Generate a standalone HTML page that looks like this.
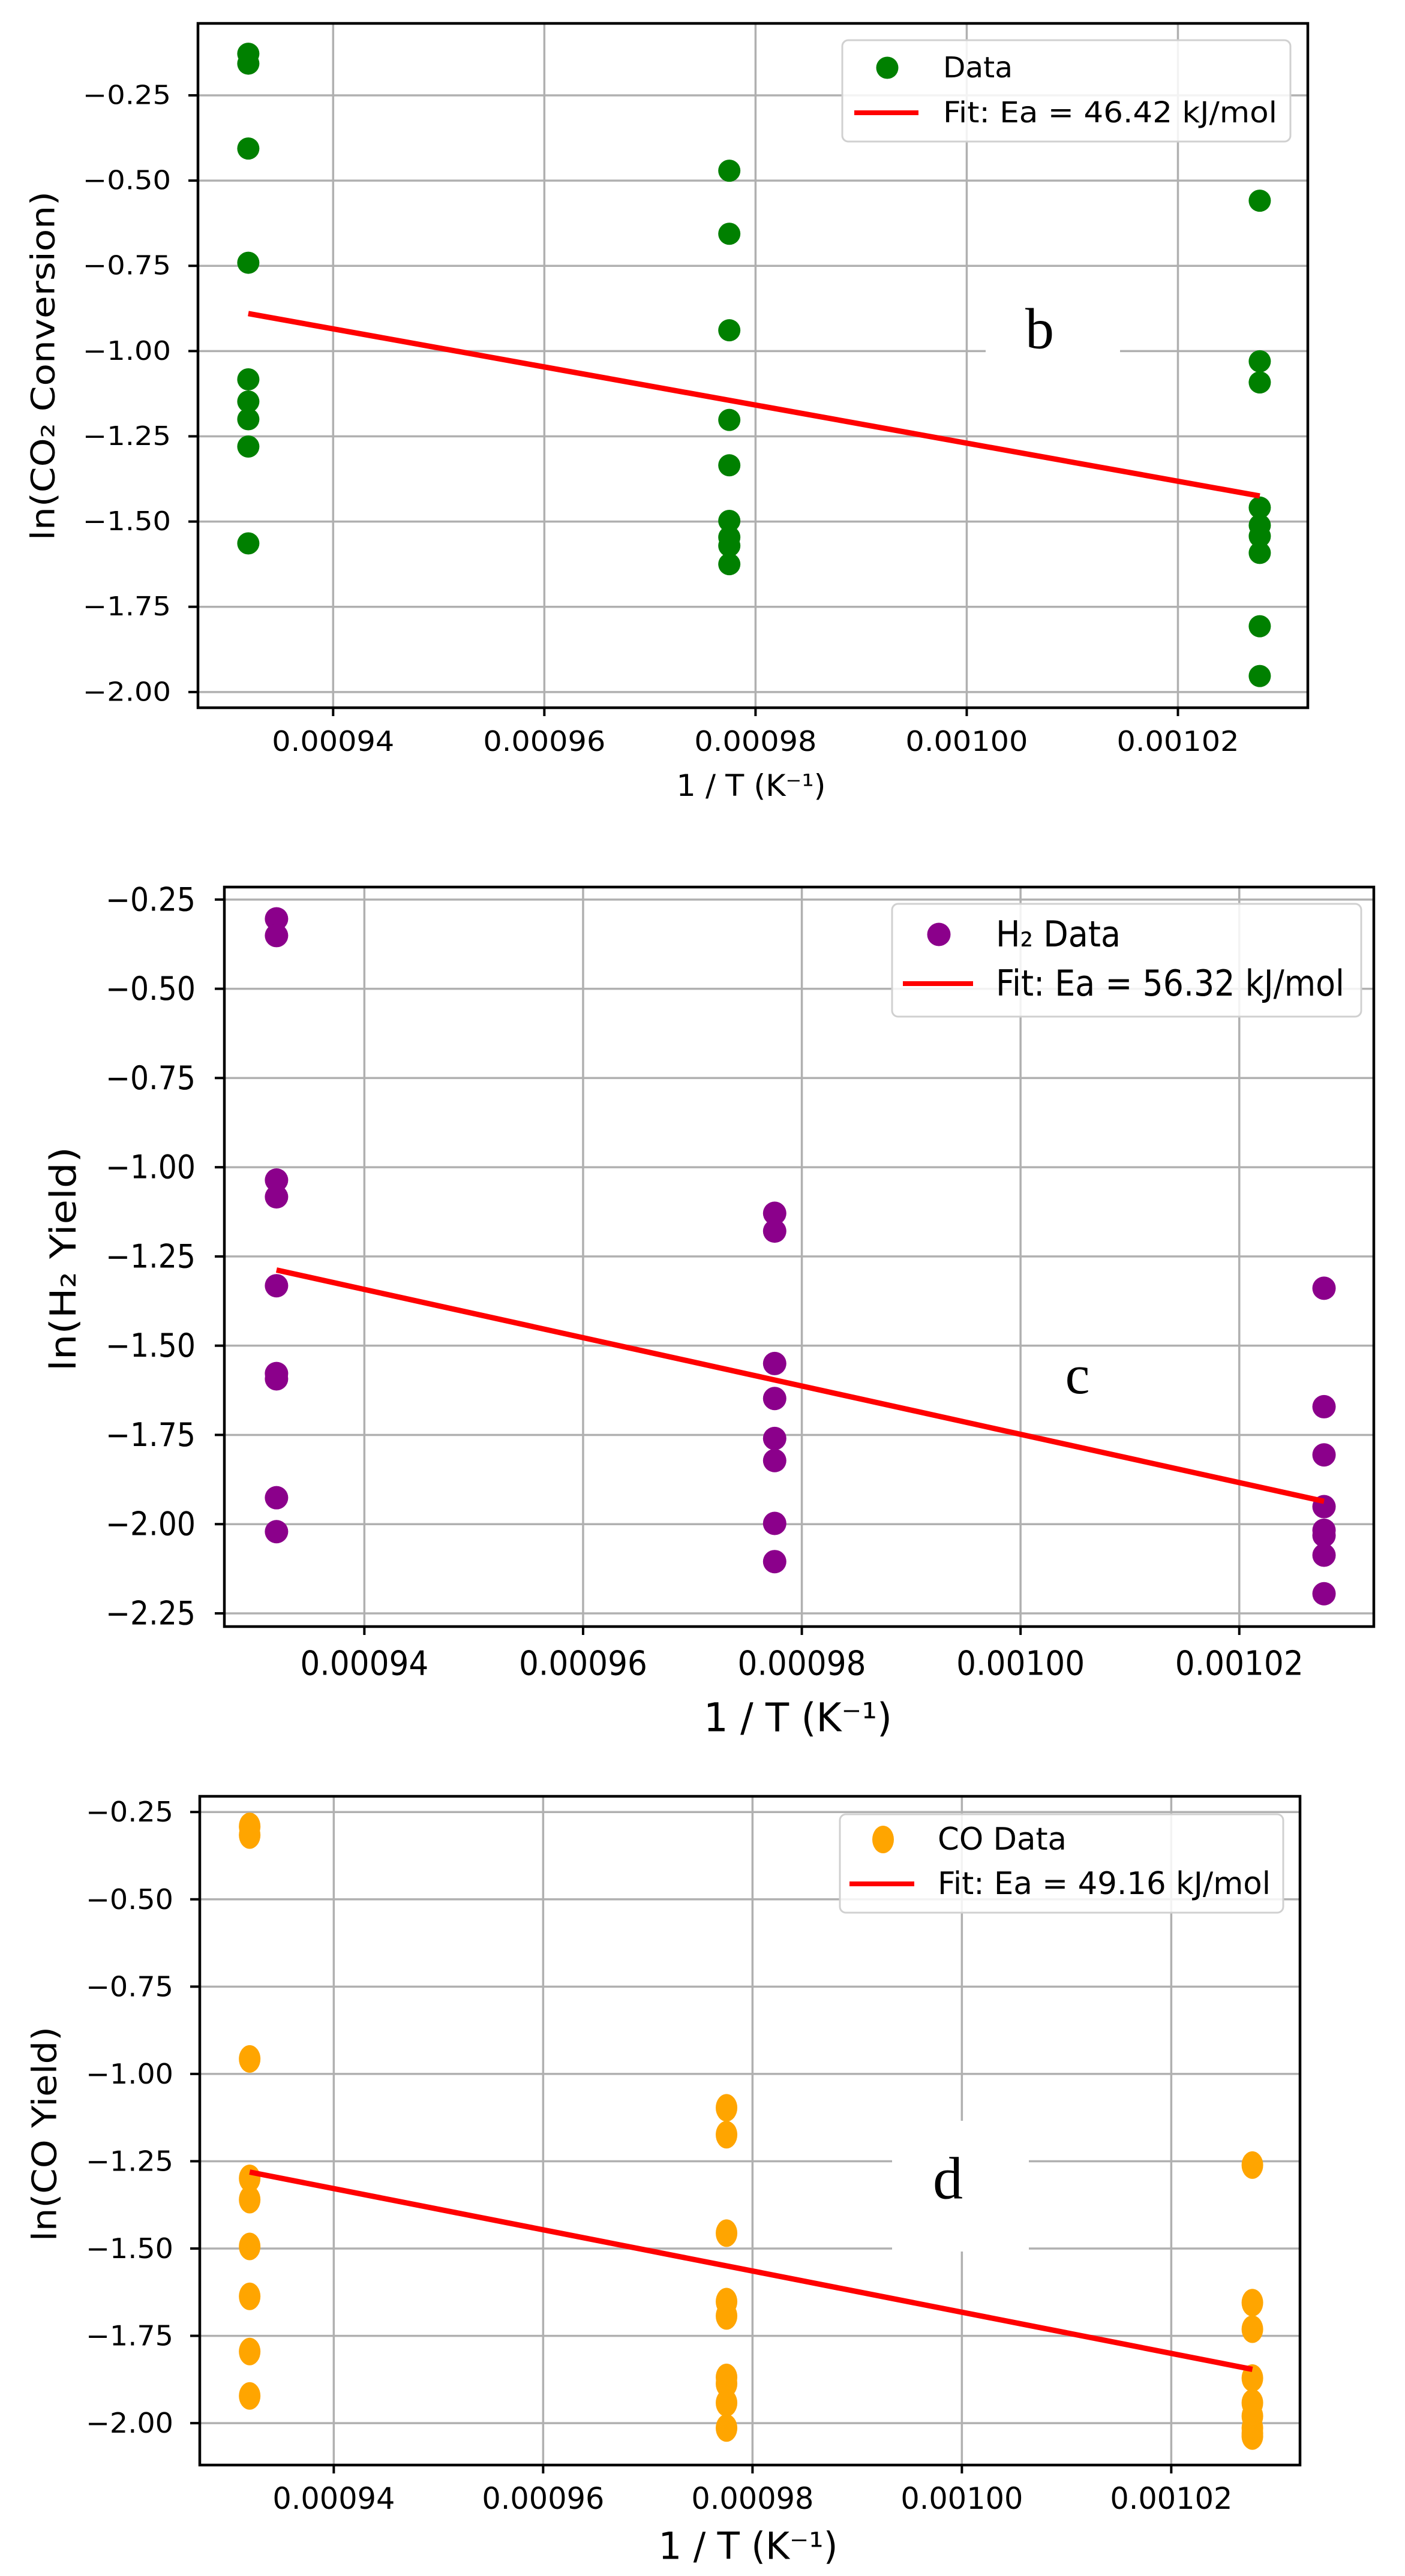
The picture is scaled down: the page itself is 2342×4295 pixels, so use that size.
<!DOCTYPE html>
<html><head><meta charset="utf-8"><title>Arrhenius plots</title>
<style>html,body{margin:0;padding:0;background:#fff;}svg{display:block;}</style>
</head><body>
<svg id="fig" xmlns="http://www.w3.org/2000/svg" width="2342" height="4295" viewBox="0 0 2342 4295"></svg>
<script>
// ---- shared data ----
const tempsK = [1073, 1023, 973];
const xTickValues = [0.00094, 0.00096, 0.00098, 0.00100, 0.00102];
const xTickLabels = ["0.00094", "0.00096", "0.00098", "0.00100", "0.00102"];
const yTickValues = [-0.25, -0.5, -0.75, -1.0, -1.25, -1.5, -1.75, -2.0, -2.25];
const yTickLabels = ["\u22120.25", "\u22120.50", "\u22120.75", "\u22121.00", "\u22121.25", "\u22121.50", "\u22121.75", "\u22122.00", "\u22122.25"];

// ---- panel b: CO2 conversion ----
const co2At1073 = [-0.128, -0.157, -0.406, -0.741, -1.083, -1.148, -1.200, -1.280, -1.564];
const co2At1023 = [-0.471, -0.656, -0.939, -1.202, -1.335, -1.498, -1.546, -1.571, -1.625];
const co2At973 = [-0.559, -1.030, -1.092, -1.459, -1.511, -1.543, -1.592, -1.807, -1.953];
const co2FitEnds = [-0.89, -1.425];
const co2Ea = "46.42";

// ---- panel c: H2 yield ----
const h2At1073 = [-0.304, -0.351, -1.036, -1.083, -1.332, -1.578, -1.593, -1.926, -2.021];
const h2At1023 = [-1.129, -1.179, -1.550, -1.648, -1.760, -1.822, -1.998, -2.105];
const h2At973 = [-1.339, -1.671, -1.806, -1.951, -2.017, -2.032, -2.087, -2.195];
const h2FitEnds = [-1.288, -1.936];
const h2Ea = "56.32";

// ---- panel d: CO yield ----
const coAt1073 = [-0.291, -0.316, -0.957, -1.299, -1.360, -1.494, -1.637, -1.795, -1.922];
const coAt1023 = [-1.097, -1.174, -1.456, -1.652, -1.693, -1.869, -1.887, -1.942, -2.014];
const coAt973 = [-1.261, -1.655, -1.731, -1.871, -1.942, -1.980, -2.014, -2.029, -2.037];
const coFitEnds = [-1.281, -1.846];
const coEa = "49.16";

const NS = "http://www.w3.org/2000/svg";
const svg = document.getElementById("fig");
function mk(tag, attrs, parent) {
  const e = document.createElementNS(NS, tag);
  for (const k in attrs) e.setAttribute(k, attrs[k]);
  (parent || svg).appendChild(e);
  return e;
}
function txt(parent, x, y, str, size, width, anchor, family, name, rot) {
  const t = mk("text", {x: x, y: y, "font-size": size, "font-family": family || "'DejaVu Sans','Liberation Sans',sans-serif",
    "text-anchor": anchor || "middle", "dominant-baseline": "central", fill: "#000"}, parent);
  if (width) { t.setAttribute("textLength", width); t.setAttribute("lengthAdjust", "spacingAndGlyphs"); }
  if (rot) t.setAttribute("transform", "rotate(-90 " + x + " " + y + ")");
  t.textContent = str;
  
  
  return t;
}

function panel(cfg) {
  const g = mk("g", {});
  
  
  const L = cfg.left, R = cfg.right, T = cfg.top, B = cfg.bottom;
  const xd = [0.0009272, 0.0010323];
  const sx = v => L + (v - xd[0]) / (xd[1] - xd[0]) * (R - L);
  const sy = v => T + (cfg.ymax - v) / (cfg.ymax - cfg.ymin) * (B - T);
  // grid
  const grid = mk("g", {stroke: "#b0b0b0", "stroke-width": 3.5}, g);
  
  
  xTickValues.forEach((v, i) => {
    const x = sx(v);
    mk("line", {x1: x, x2: x, y1: T, y2: B}, grid);
    const tk = mk("line", {x1: x, x2: x, y1: B, y2: B + 14, stroke: "#000", "stroke-width": 4}, g);
    
    txt(g, x, cfg.xTickY, xTickLabels[i], cfg.xTickSize, cfg.xTickW, "middle", null, "x-tick-label");
  });
  yTickValues.forEach((v, i) => {
    if (v > cfg.ymax || v < cfg.ymin) return;
    const y = sy(v);
    mk("line", {x1: L, x2: R, y1: y, y2: y}, grid);
    const tk = mk("line", {x1: L - 16, x2: L, y1: y, y2: y, stroke: "#000", "stroke-width": 4}, g);
    
    txt(g, cfg.yTickRight, y, yTickLabels[i], cfg.yTickSize, cfg.yTickW, "end", null, "y-tick-label");
  });
  // white label box
  if (cfg.box) {
    const bx = mk("rect", {x: cfg.box[0], y: cfg.box[1], width: cfg.box[2], height: cfg.box[3], fill: "#fff"}, g);
    
    
  }
  // points
  const pts = mk("g", {fill: cfg.color}, g);
  
  
  cfg.series.forEach((vals, si) => {
    const x = sx(1 / tempsK[si]);
    vals.forEach(v => {
      const c = mk("ellipse", {cx: x, cy: sy(v), rx: cfg.rx, ry: cfg.ry}, pts);
      
      
    });
  });
  // fit line
  const fl = mk("line", {x1: sx(1 / tempsK[0]), y1: sy(cfg.fit[0]), x2: sx(1 / tempsK[2]), y2: sy(cfg.fit[1]),
    stroke: "#ff0000", "stroke-width": 9}, g);
  
  
  // spines
  const sp = mk("rect", {x: L, y: T, width: R - L, height: B - T, fill: "none", stroke: "#000", "stroke-width": 4.5}, g);
  
  
  // axis labels
  txt(g, cfg.xLab[0], cfg.xLab[1], "1 / T (K\u207B\u00B9)", cfg.xLab[2], cfg.xLab[3], "middle", null, "x-axis-title");
  txt(g, cfg.yLab[0], cfg.yLab[1], cfg.yLabText, cfg.yLab[2], cfg.yLab[3], "middle", null, "y-axis-title", true);
  // legend
  const lg = mk("g", {}, g);
  
  
  const lb = cfg.legend;
  mk("rect", {x: lb.x, y: lb.y, width: lb.w, height: lb.h, rx: 10, fill: "#fff", "fill-opacity": 0.85, stroke: "#d0d0d0", "stroke-width": 3}, lg);
  const lm = mk("ellipse", {cx: lb.mx, cy: lb.y1, rx: cfg.rx, ry: cfg.ry, fill: cfg.color}, lg);
  
  const ll = mk("line", {x1: lb.lx1, x2: lb.lx2, y1: lb.y2, y2: lb.y2, stroke: "#ff0000", "stroke-width": 8}, lg);
  
  txt(lg, lb.tx, lb.y1, cfg.dataLabel, lb.size, lb.w1, "start", null, "legend-entry-data");
  txt(lg, lb.tx, lb.y2, "Fit: Ea = " + cfg.ea + " kJ/mol", lb.size, lb.w2, "start", null, "legend-entry-fit");
  // panel letter
  txt(g, cfg.letter[1], cfg.letter[2], cfg.letter[0], cfg.letter[3], null, "middle", "'Liberation Serif',serif", "panel-letter");
}

panel({name: "panel-b-co2-conversion", left: 330, right: 2180, top: 39, bottom: 1180, ymax: -0.039, ymin: -2.046,
  color: "#008000", rx: 18.5, ry: 18.5, series: [co2At1073, co2At1023, co2At973], fit: co2FitEnds, ea: co2Ea,
  xTickY: 1236, xTickSize: 46, xTickW: 204, yTickRight: 285, yTickSize: 44, yTickW: 147,
  xLab: [1252, 1310, 50, 249], yLab: [72, 610, 54, 582], yLabText: "ln(CO\u2082 Conversion)",
  legend: {x: 1404, y: 67, w: 747, h: 169, mx: 1479, y1: 113, y2: 188, lx1: 1424, lx2: 1531, tx: 1572, size: 48, w1: 116, w2: 557},
  dataLabel: "Data", box: [1643, 495, 224, 110], letter: ["b", 1733, 548, 96]});

panel({name: "panel-c-h2-yield", left: 374, right: 2290, top: 1479, bottom: 2712, ymax: -0.215, ymin: -2.287,
  color: "#8b008b", rx: 19.5, ry: 19.5, series: [h2At1073, h2At1023, h2At973], fit: h2FitEnds, ea: h2Ea,
  xTickY: 2774, xTickSize: 56, xTickW: 214, yTickRight: 326, yTickSize: 54, yTickW: 150,
  xLab: [1330, 2864, 66, 314], yLab: [106, 2099, 60, 374], yLabText: "ln(H\u2082 Yield)",
  legend: {x: 1487, y: 1507, w: 782, h: 188, mx: 1565, y1: 1558, y2: 1640, lx1: 1505, lx2: 1622, tx: 1660, size: 60, w1: 208, w2: 581},
  dataLabel: "H\u2082 Data", box: null, letter: ["c", 1796, 2292, 92]});

panel({name: "panel-d-co-yield", left: 333, right: 2167, top: 2995, bottom: 4110, ymax: -0.205, ymin: -2.12,
  color: "#ffa500", rx: 18, ry: 23, series: [coAt1073, coAt1023, coAt973], fit: coFitEnds, ea: coEa,
  xTickY: 4166, xTickSize: 50, xTickW: 204, yTickRight: 289, yTickSize: 46, yTickW: 146,
  xLab: [1247, 4245, 62, 299], yLab: [75, 3558, 56, 358], yLabText: "ln(CO Yield)",
  legend: {x: 1400, y: 3025, w: 739, h: 164, mx: 1472, y1: 3067, y2: 3141, lx1: 1416, lx2: 1524, tx: 1563, size: 52, w1: 215, w2: 555},
  dataLabel: "CO Data", box: [1487, 3536, 228, 218], letter: ["d", 1580, 3632, 100]});
</script>
</body></html>
